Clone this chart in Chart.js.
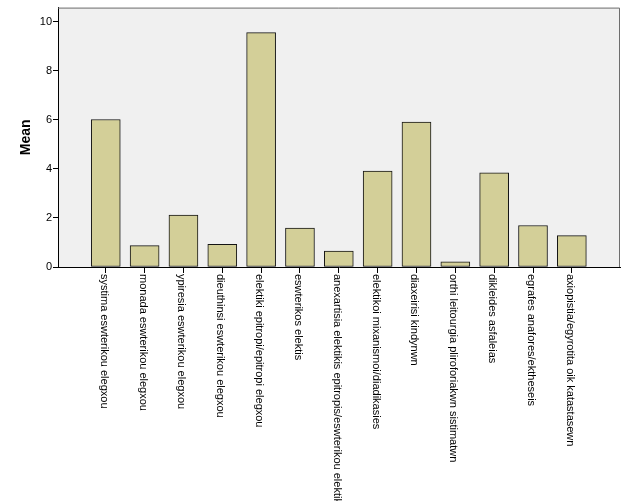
<!DOCTYPE html>
<html>
<head>
<meta charset="utf-8">
<script src="https://cdn.jsdelivr.net/npm/chart.js@4"></script>
<style>
  body { margin: 0; background: #fff; }
  #wrap { width: 626px; height: 501px; position: relative; }
</style>
</head>
<body>
<div id="wrap"><canvas id="myChart"></canvas></div>
<script>
var categories = [
  "systima eswterikou elegxou",
  "monada eswterikou elegxou",
  "ypiresia eswterikou elegxou",
  "dieuthinsi eswterikou elegxou",
  "elektiki epitropi/epitropi elegxou",
  "eswterikos elektis",
  "anexartisia elektikis epitropis/eswterikou elektikis",
  "elektikoi mixanismoi/diadikasies",
  "diaxeirisi kindynwn",
  "orthi leitourgia pliroforiakwn sistimatwn",
  "dikleides asfaleias",
  "egrafes anafores/ektheseis",
  "axiopistia/egyrotita oik katastasewn"
];
var means = [6.01, 0.87, 2.12, 0.92, 9.55, 1.59, 0.65, 3.91, 5.91, 0.21, 3.84, 1.69, 1.28];
var yTicks = [0, 2, 4, 6, 8, 10];

var FONT = '"Liberation Sans", Arial, sans-serif';

// plot background + frame, like the SPSS output
const frame = {
  id: "frame",
  beforeDraw(chart) {
    const { ctx, chartArea: a } = chart;
    ctx.save();
    ctx.fillStyle = "#f0f0f0";
    ctx.fillRect(a.left, a.top, a.right - a.left, a.bottom - a.top);
    ctx.restore();
  },
  afterDraw(chart) {
    const { ctx, chartArea: a } = chart;
    ctx.save();
    ctx.strokeStyle = "#6e6e6e";
    ctx.lineWidth = 1;
    ctx.beginPath();
    ctx.moveTo(a.left, a.top + 0.5);
    ctx.lineTo(a.right - 0.5, a.top + 0.5);
    ctx.lineTo(a.right - 0.5, a.bottom);
    ctx.stroke();

    // category labels, read top to bottom
    const x = chart.scales.x;
    ctx.fillStyle = "#000";
    ctx.font = "11px " + FONT;
    ctx.textAlign = "left";
    ctx.textBaseline = "middle";
    categories.forEach(function (label, i) {
      ctx.save();
      ctx.translate(x.getPixelForValue(i) - 2, x.top + 7);
      ctx.rotate(Math.PI / 2);
      ctx.fillText(label, 0, 0);
      ctx.restore();
    });
    ctx.restore();
  },
};

const data = {
  datasets: [
    {
      data: means.map(function (v, i) { return { x: i, y: v }; }),
      backgroundColor: "#d3cf98",
      borderColor: "#141414",
      borderWidth: 1,
      borderSkipped: false,
      barThickness: 29,
    },
  ],
};

const config = {
  type: "bar",
  data: data,
  options: {
    responsive: true,
    maintainAspectRatio: false,
    animation: false,
    layout: { padding: { top: 4, right: 6, left: 0, bottom: 0 } },
    plugins: {
      legend: { display: false },
      tooltip: { enabled: false },
    },
    scales: {
      x: {
        type: "linear",
        min: -1.23,
        max: 13.24,
        offset: false,
        afterBuildTicks: function (scale) {
          scale.ticks = categories.map(function (c, i) { return { value: i }; });
        },
        afterFit: function (scale) { scale.height = 234; },
        grid: {
          offset: false,
          drawOnChartArea: false,
          drawTicks: true,
          tickLength: 6,
          color: "#000",
        },
        border: { display: true, color: "#000" },
        ticks: { display: false },
      },
      y: {
        min: 0,
        max: 10.57,
        afterBuildTicks: function (scale) {
          scale.ticks = yTicks.map(function (v) { return { value: v }; });
        },
        afterFit: function (scale) { scale.width = 58; },
        grid: {
          drawOnChartArea: false,
          drawTicks: true,
          tickLength: 5,
          color: "#000",
        },
        border: { display: true, color: "#000" },
        ticks: {
          color: "#000",
          padding: 1,
          font: { family: FONT, size: 11 },
        },
        title: {
          display: true,
          text: "Mean",
          color: "#000",
          padding: { top: 18, bottom: 0 },
          font: { family: FONT, size: 14, weight: "bold" },
        },
      },
    },
  },
  plugins: [frame],
};

const meanChart = new Chart(document.getElementById("myChart"), config);
</script>
</body>
</html>
